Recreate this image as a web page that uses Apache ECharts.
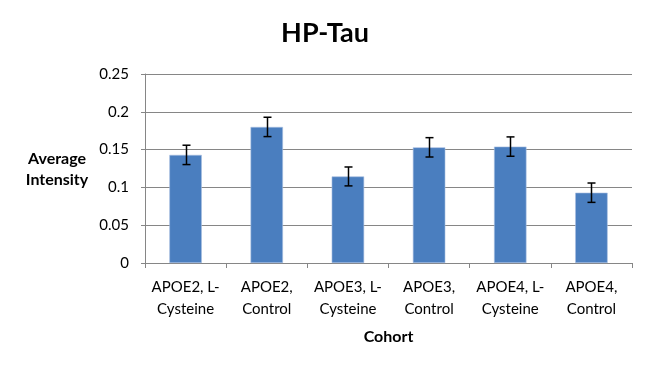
<!DOCTYPE html>
<html>
<head>
<meta charset="utf-8">
<script src="https://cdn.jsdelivr.net/npm/echarts@6/dist/echarts.min.js"></script>
<style>html,body{margin:0;padding:0;background:#fff}#c{width:650px;height:365px}</style>
</head>
<body>
<div id="c"></div>
<script>
var categories = ["APOE2, L-\nCysteine", "APOE2,\nControl", "APOE3, L-\nCysteine", "APOE3,\nControl", "APOE4, L-\nCysteine", "APOE4,\nControl"];
var values = [0.143, 0.180, 0.1145, 0.153, 0.154, 0.093];
var errors = [0.0128, 0.0128, 0.0125, 0.0128, 0.0128, 0.0128];
var yTicks = [0, 0.05, 0.1, 0.15, 0.2, 0.25];

var FONT = "Lato";
var chart = echarts.init(document.getElementById('c'));
chart.setOption({
  animation: false,
  textStyle: {fontFamily: FONT},
  title: {text: "HP-Tau", left: 'center', top: 15, textStyle: {fontFamily: FONT, fontSize: 27, fontWeight: 'bold', color: '#000'}},
  grid: {left: 145, right: 18, top: 74, bottom: 102},
  graphic: [{type: 'text', left: 24, top: 148, style: {text: "Average\nIntensity", font: "bold 16px Lato", fill: '#000', textAlign: 'center', lineHeight: 21, width: 66}}],
  xAxis: {
    type: 'category', data: categories,
    name: 'Cohort', nameLocation: 'middle', nameGap: 66,
    nameTextStyle: {fontFamily: FONT, fontSize: 16, fontWeight: 'bold', color: '#000'},
    axisLine: {lineStyle: {color: '#868686', width: 1}},
    axisTick: {show: true, length: 5, lineStyle: {color: '#868686'}},
    axisLabel: {fontFamily: FONT, fontSize: 15, color: '#000', lineHeight: 22, margin: 13, interval: 0}
  },
  yAxis: {
    type: 'value', min: 0, max: 0.25, interval: 0.05,
    axisLine: {show: true, lineStyle: {color: '#868686'}},
    axisTick: {show: true, length: 4, lineStyle: {color: '#868686'}},
    splitLine: {lineStyle: {color: '#868686', width: 1}},
    axisLabel: {fontFamily: FONT, fontSize: 15, color: '#000', margin: 16,
      formatter: function (v) { var s = Math.round(v * 100) / 100; return String(s); }}
  },
  series: [{
    type: 'bar', data: values, barWidth: '40%',
    itemStyle: {color: '#4a7ebf', borderColor: '#a9c0e0', borderWidth: 0.6}
  }, {
    type: 'custom',
    data: values.map(function (v, i) { return [i, v - errors[i], v + errors[i]]; }),
    renderItem: function (params, api) {
      var x = api.value(0);
      var lo = api.coord([x, api.value(1)]);
      var hi = api.coord([x, api.value(2)]);
      var cx = Math.round(lo[0]) + 0.5;
      var w = 4;
      var st = {stroke: '#000', lineWidth: 1.5};
      return {type: 'group', children: [
        {type: 'line', shape: {x1: cx, y1: hi[1], x2: cx, y2: lo[1]}, style: st},
        {type: 'line', shape: {x1: cx - w, y1: hi[1], x2: cx + w, y2: hi[1]}, style: st},
        {type: 'line', shape: {x1: cx - w, y1: lo[1], x2: cx + w, y2: lo[1]}, style: st}
      ]};
    },
    z: 10
  }]
});
</script>
</body>
</html>
